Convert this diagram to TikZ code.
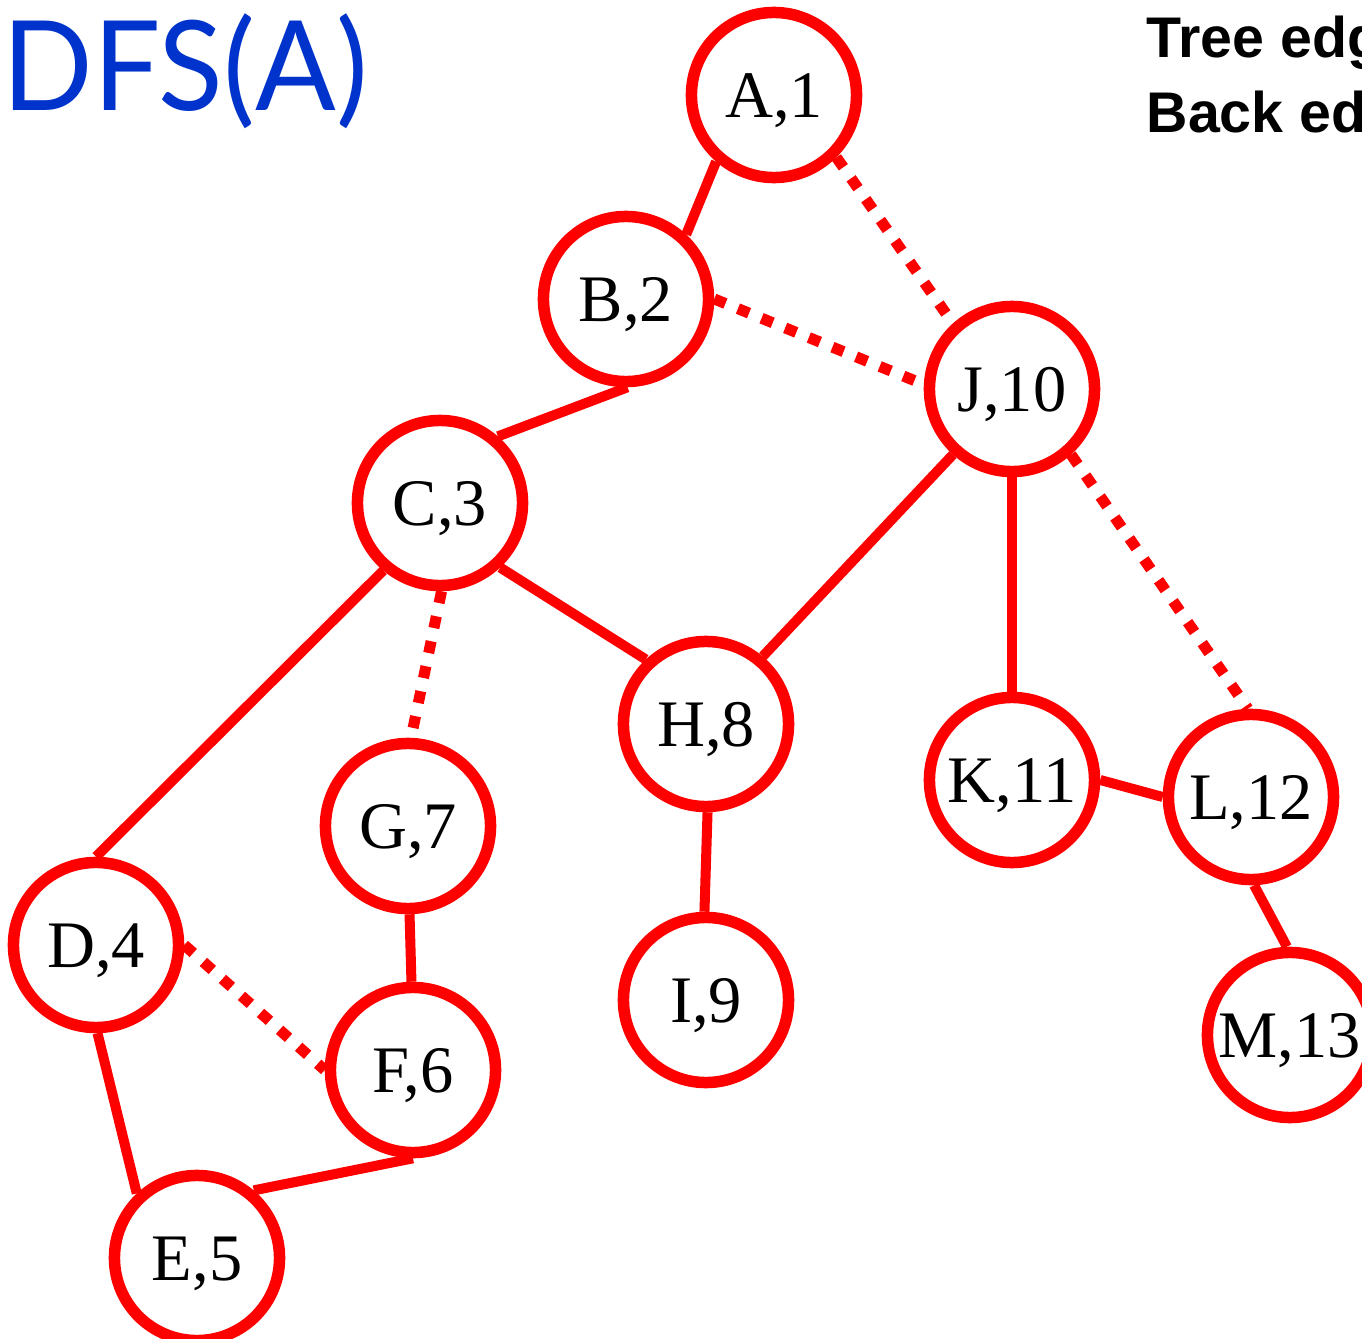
\documentclass[tikz,border=0pt]{standalone}
\usepackage{fontspec}
\newfontfamily\vfont{Liberation Serif}
\newfontfamily\legfont{Liberation Sans}
\newfontfamily\ttlfont{Lato}
\newcommand\vtxfont{\vfont\fontsize{18.9pt}{22pt}\selectfont}
\newcommand\legsize{\legfont\bfseries\fontsize{16.3pt}{20pt}\selectfont}
\newcommand\ttlsize{\ttlfont\fontsize{35.5pt}{40pt}\selectfont}
\definecolor{titleblue}{RGB}{0,51,204}
\tikzset{
  vtx/.style={circle, draw=red, line width=0.115cm, minimum size=1.65cm, inner sep=0pt,
              font=\vtxfont, text height=0.44cm, text depth=0pt},
  treeedge/.style={draw=red, line width=0.1cm},
  backedge/.style={draw=red, line width=0.11cm, dash pattern=on 0.12cm off 0.135cm},
}
\begin{document}
\begin{tikzpicture}[x=0.01cm,y=-0.01cm]
\useasboundingbox (0,0) rectangle (1362,1339);
\clip (0,0) rectangle (1362,1339);
\fill[white] (0,0) rectangle (1362,1339);

\node[anchor=base west, inner sep=0pt, text=titleblue, font=\ttlsize, xscale=0.955] (title) at (2,110) {DFS(A)};
\node[anchor=base west, inner sep=0pt, font=\legsize] (leg1) at (1146,57) {Tree edge};
\node[anchor=base west, inner sep=0pt, font=\legsize] (leg2) at (1146,132) {Back edge};

\node[vtx] (A) at (774,95)   {A,1};
\node[vtx] (B) at (626,299)  {B,2};
\node[vtx] (J) at (1012,389) {J,10};
\node[vtx] (C) at (440,503)  {C,3};
\node[vtx] (H) at (706,724)  {H,8};
\node[vtx] (K) at (1012,780) {K,11};
\node[vtx] (L) at (1251,797) {L,12};
\node[vtx] (G) at (408,826)  {G,7};
\node[vtx] (D) at (96,945)   {D,4};
\node[vtx] (F) at (413,1070) {F,6};
\node[vtx] (I) at (706,1000) {I,9};
\node[vtx] (M) at (1290,1035){M,13};
\node[vtx] (E) at (197,1258) {E,5};

\draw[treeedge] (A.229) -- (B.47);
\draw[backedge] (A.-45) -- (J.132);
\draw[backedge] (B.0) -- (J.177);
\draw[treeedge] (B.-89) -- (C.49);
\draw[treeedge] (C.230) -- (D.90);
\draw[backedge] (C.-89) -- (G.88);
\draw[treeedge] (C.-47) -- (H.133);
\draw[treeedge] (J.228) -- (H.50);
\draw[treeedge] (J.-90) -- (K.90);
\draw[backedge] (J.-48) -- (L.92);
\draw[treeedge] (K.0) -- (L.180);
\draw[treeedge] (L.-88) -- (M.92);
\draw[treeedge] (H.-89) -- (I.91);
\draw[treeedge] (G.-89) -- (F.91);
\draw[backedge] (D.0) -- (F.180);
\draw[treeedge] (D.-89) -- (E.133);
\draw[treeedge] (F.-90) -- (E.50);
\end{tikzpicture}
\end{document}
